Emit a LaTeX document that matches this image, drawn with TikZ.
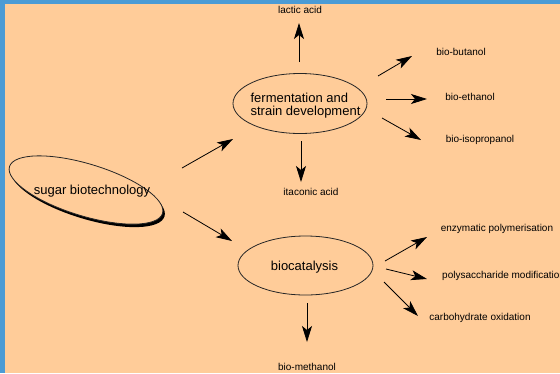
\documentclass[tikz,border=0pt]{standalone}
\usepackage{fontspec}
\setmainfont{Liberation Sans}
\usetikzlibrary{arrows.meta}
\definecolor{peach}{RGB}{255,204,153}
\definecolor{edge}{RGB}{75,155,213}

\begin{document}
\begin{tikzpicture}[x=1pt,y=-1pt,
        big/.style={font=\fontsize{13}{13}\selectfont,inner sep=0pt},
        small/.style={font=\fontsize{10}{12}\selectfont,inner sep=0pt},
        arr/.style={-{Stealth[length=16pt,width=10pt,inset=4pt]},line width=0.8pt},
        rim/.style={draw=black!85,line width=0.8pt}]
    \fill[peach] (0,0) rectangle (560,373);
    \fill[edge] (0,0) rectangle (560,4);
    \fill[edge] (0,0) rectangle (5,373);
    \useasboundingbox (0,0) rectangle (560,373);
    \clip (0,0) rectangle (560,373);

    \fill[black,rotate around={-17:(88,193)}] (88,193) ellipse (80 and 26);
    \filldraw[fill=peach,rim,rotate around={-17:(86,190)}] (86,190) ellipse (80 and 26);
    \node[big] (sugar) at (92,191) {sugar biotechnology};

    \node[big,align=left] (ferm) at (305.5,105.5) {fermentation and\\strain development};
    \draw[rim] (300,103.5) ellipse (67 and 30);
    \node[big] (bioc) at (304.5,267) {biocatalysis};
    \draw[rim] (305.5,265.5) ellipse (67.5 and 29.5);

    \node[small] (lactic) at (300,10) {lactic acid};
    \node[small] (itaconic) at (311,192) {itaconic acid};
    \node[small] (butanol) at (461,52) {bio-butanol};
    \node[small] (ethanol) at (470,97) {bio-ethanol};
    \node[small] (isoprop) at (480,140) {bio-isopropanol};
    \node[small] (enzym) at (497,229) {enzymatic polymerisation};
    \node[small,anchor=west] (polysac) at (442,276) {polysaccharide modification};
    \node[small] (oxid) at (480,318) {carbohydrate oxidation};
    \node[small] (methanol) at (307,367) {bio-methanol};

    \coordinate (s1) at (182,168); \coordinate (s1e) at (233,139);
    \coordinate (s2) at (183,212); \coordinate (s2e) at (232,241);
    \coordinate (f1) at (299,62);  \coordinate (f1e) at (299,23);
    \coordinate (f2) at (301,141); \coordinate (f2e) at (301,182);
    \coordinate (f3) at (378,76);  \coordinate (f3e) at (412,56);
    \coordinate (f4) at (386,99);  \coordinate (f4e) at (427,99);
    \coordinate (f5) at (382,118); \coordinate (f5e) at (421,140);
    \coordinate (b1) at (385,261); \coordinate (b1e) at (427,237);
    \coordinate (b2) at (386,269); \coordinate (b2e) at (427,279);
    \coordinate (b3) at (384,282); \coordinate (b3e) at (418,316);
    \coordinate (b4) at (307,303); \coordinate (b4e) at (307,342);

    \foreach \a in {s1,s2,f1,f2,f3,f4,f5,b1,b2,b3,b4}
        \draw[arr] (\a) -- (\a e);
\end{tikzpicture}
\end{document}
